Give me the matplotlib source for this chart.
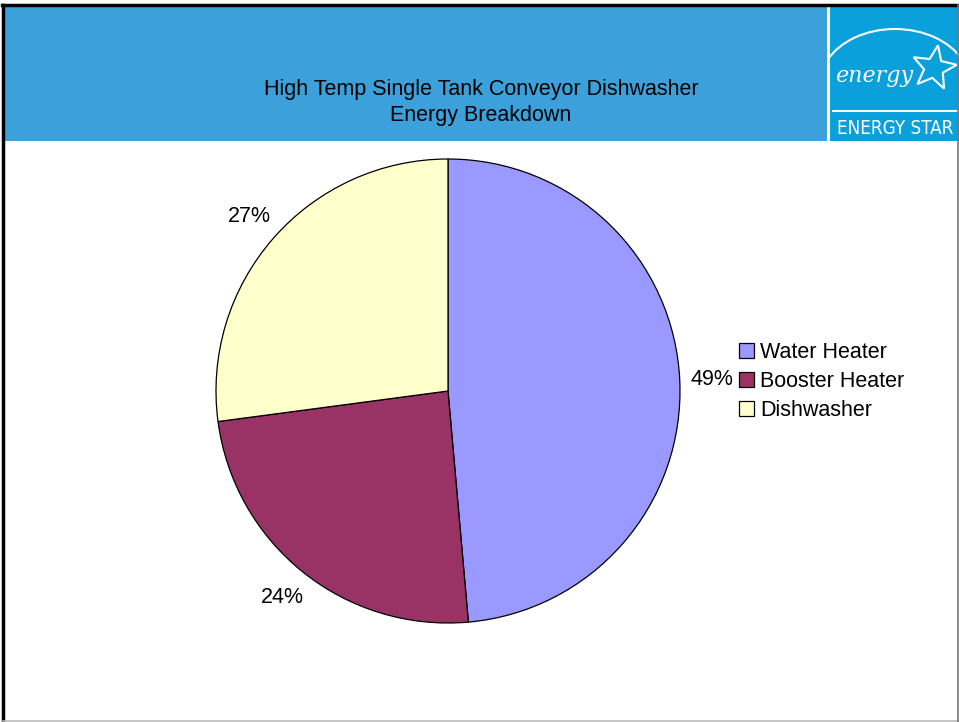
import matplotlib
matplotlib.use("Agg")
import matplotlib.pyplot as plt
from matplotlib.patches import Rectangle, Polygon, Arc, Patch
import numpy as np

plt.rcParams['font.family'] = ['Liberation Sans', 'DejaVu Sans']

labels = ["Water Heater", "Booster Heater", "Dishwasher"]
shares = [48.6, 24.3, 27.1]
colors = ["#9999FF", "#993366", "#FFFFCC"]
title_lines = ["High Temp Single Tank Conveyor Dishwasher", "Energy Breakdown"]

W, H = 959, 722
fig = plt.figure(figsize=(W / 100, H / 100), dpi=100)


def fx(px):
    return px / W


def fy(py):
    return 1 - py / H


# frame and banner
fig.patches.append(Rectangle((fx(4), fy(141)), fx(823), 135 / H, transform=fig.transFigure,
                             facecolor="#3ca1da", edgecolor="none", zorder=-5))
fig.patches.append(Rectangle((fx(830), fy(141)), fx(129), 135 / H, transform=fig.transFigure,
                             facecolor="#0aa0dc", edgecolor="none", zorder=-5))
fig.add_artist(plt.Line2D([fx(2), fx(959)], [fy(5), fy(5)], color="black", lw=2.5))
fig.add_artist(plt.Line2D([fx(3), fx(3)], [fy(5), fy(722)], color="black", lw=2.5))
fig.add_artist(plt.Line2D([fx(3), fx(959)], [fy(720.5), fy(720.5)], color="#bbbbbb", lw=1.2))
fig.add_artist(plt.Line2D([fx(957.5), fx(957.5)], [fy(5), fy(722)], color="#777777", lw=1.2))

# logo
lg = fig.add_axes([fx(830), fy(141), fx(129), 135 / H])
lg.set_xlim(0, 129)
lg.set_ylim(135, 0)
lg.axis("off")
lg.add_patch(Arc((65, 78), 150, 110, theta1=200, theta2=340, color="white", lw=1.5))
ang = np.deg2rad(np.arange(0, 360, 36) - 80)
rad = np.where(np.arange(10) % 2 == 0, 23, 10)
star = np.c_[104 + rad * np.cos(ang), 62 + rad * np.sin(ang)]
lg.add_patch(Polygon(star, closed=True, fill=False, edgecolor="white", lw=1.5))
lg.text(44, 70, "energy", color="white", fontsize=16, style="italic",
        family="DejaVu Serif", ha="center", va="center")
lg.plot([3, 129], [105, 105], color="white", lw=1.5)
lg.text(65, 122, "ENERGY STAR", color="white", fontsize=13.5, ha="center", va="center",
        family="DejaVu Sans", fontstretch="condensed")

# title
fig.text(fx(481), fy(89), title_lines[0], ha="center", va="center", fontsize=15.5)
fig.text(fx(481), fy(115), title_lines[1], ha="center", va="center", fontsize=15.5)

# pie: centre (448, 391), radius 232 px
side = 560
ax = fig.add_axes([fx(448 - side / 2), fy(391 + side / 2), fx(side), side / H])
a = side / (2 * 232)
wedges, texts, autotexts = ax.pie(shares, colors=colors, startangle=90, counterclock=False,
                                  autopct="%1.0f%%", pctdistance=1.14,
                                  wedgeprops=dict(edgecolor="black", linewidth=0.9),
                                  textprops=dict(fontsize=15.5))
ax.set_xlim(-a, a)
ax.set_ylim(-a, a)
ax.set_aspect("equal")
ax.axis("off")

handles = [Patch(facecolor=c, edgecolor="black", linewidth=0.9) for c in colors]
fig.legend(handles, labels, loc="upper left", bbox_to_anchor=(fx(730), fy(333)),
           frameon=False, fontsize=15.5, handlelength=0.7, handleheight=0.7,
           handletextpad=0.3, labelspacing=0.38, borderaxespad=0)

fig.savefig("out.png", dpi=100, facecolor="white")
